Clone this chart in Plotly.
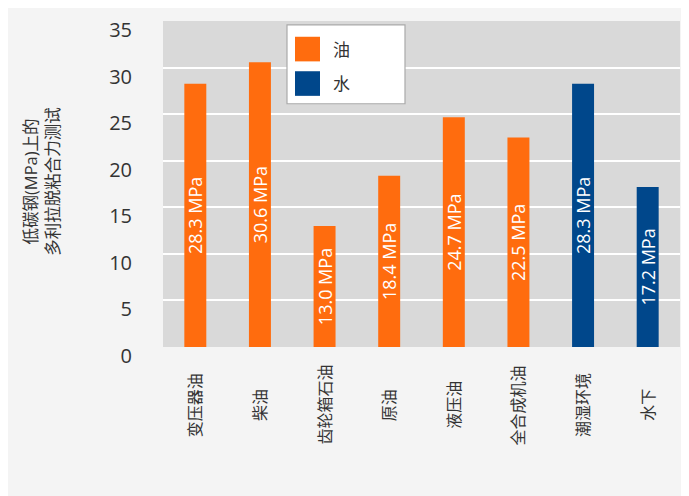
import plotly.graph_objects as go

categories = ["变压器油", "柴油", "齿轮箱石油", "原油", "液压油", "全合成机油", "潮湿环境", "水下"]
values = [28.3, 30.6, 13.0, 18.4, 24.7, 22.5, 28.3, 17.2]
groups = ["油", "油", "油", "油", "油", "油", "水", "水"]
legend_names = ["油", "水"]
y_ticks = [0, 5, 10, 15, 20, 25, 30, 35]
y_title = "低碳钢(MPa)上的<br>多利拉脱粘合力测试"

ORANGE = "#FF6C0E"
BLUE = "#00478B"
color_map = {"油": ORANGE, "水": BLUE}
FONT = "Open Sans, Noto Sans CJK SC, sans-serif"
TXT = "#333333"

fig = go.Figure()
fig.add_trace(go.Bar(
    x=categories, y=values,
    marker=dict(color=[color_map[g] for g in groups], line=dict(width=0)),
    text=[f"{v:.1f} MPa" for v in values],
    textposition="inside", insidetextanchor="middle", textangle=-90,
    constraintext="none",
    textfont=dict(color="white", size=18, family=FONT),
    showlegend=False, hoverinfo="skip",
))

# category labels (rotated, centred below the axis)
for c in categories:
    fig.add_annotation(x=c, xref="x", y=-0.178, yref="paper", text=c,
                       textangle=-90, showarrow=False, xanchor="center", yanchor="middle",
                       font=dict(size=16, color=TXT, family=FONT))

# y-axis title
fig.add_annotation(x=-0.236, xref="paper", y=0.51, yref="paper", text=y_title,
                   textangle=-90, showarrow=False, xanchor="center", yanchor="middle",
                   font=dict(size=16.5, color=TXT, family=FONT))

# custom legend (positions relative to the plot area: left=163, bottom=347, 517x331)
W, H = 517.0, 331.0
def px_x(p): return (p - 163) / W
def px_y(p): return (347 - p) / H
fig.add_shape(type="rect", xref="paper", yref="paper",
              x0=px_x(287), x1=px_x(405), y0=px_y(100), y1=px_y(20),
              fillcolor="white", line=dict(color="#aaaaaa", width=1.2), layer="above")
for i, name in enumerate(legend_names):
    top = 32 + 35 * i
    fig.add_shape(type="rect", xref="paper", yref="paper",
                  x0=px_x(295), x1=px_x(320), y0=px_y(top + 25), y1=px_y(top),
                  fillcolor=color_map[name], line=dict(width=0), layer="above")
    fig.add_annotation(x=px_x(331), xref="paper", y=px_y(top + 12.5), yref="paper",
                       text=name, showarrow=False, xanchor="left", yanchor="middle",
                       font=dict(size=17, color=TXT, family=FONT))

fig.update_layout(
    width=689, height=496,
    margin=dict(l=155, r=17, t=8, b=157),
    paper_bgcolor="#F4F4F4", plot_bgcolor="#D9D9D9",
    bargap=0.66,
    showlegend=False,
    uniformtext=dict(minsize=18, mode="show"),
    font=dict(family=FONT, color=TXT),
    xaxis=dict(showticklabels=False, showgrid=False, zeroline=False, ticks=""),
    yaxis=dict(range=[0, 35.03], tickvals=y_ticks, showgrid=True, gridcolor="white", gridwidth=1.5,
               zeroline=False, ticks="", tickfont=dict(size=20, color=TXT, family=FONT),
               ticklabelstandoff=30, ticklabelshift=9, ticklabeloverflow="allow"),
)

fig.write_html("out.html")
